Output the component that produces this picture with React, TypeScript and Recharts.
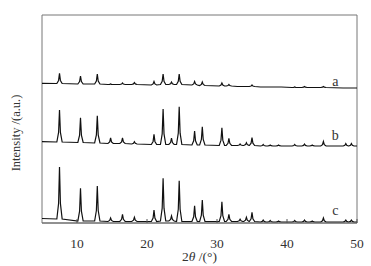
import React from 'react';
import { LineChart, Line, XAxis, YAxis, ReferenceDot, ReferenceArea } from 'recharts';

// 2θ positions of the reflections (shared by all three patterns)
const angles = [7.5, 10.5, 12.9, 14.8, 16.5, 18.2, 21.0, 22.3, 23.5, 24.6, 26.8, 27.9, 30.7, 31.7, 33.3, 34.2, 35.0, 36.6, 37.6, 38.8, 41.1, 42.5, 43.6, 45.2, 48.4, 49.2];

// pattern a (offset on top)
const aStart = 139.7;
const aEnd = 135;
const aBase = [139.5, 139, 139, 138.5, 138.5, 138.5, 138, 138.5, 138.5, 138.5, 138, 137.5, 137, 137, 136.5, 136.5, 136.5, 136, 136, 136, 135.5, 135.5, 135.5, 135.5, 135, 135];
const aPeak = [149.7, 147, 149, 139, 140, 140.5, 141.5, 149, 141, 149, 141.5, 141, 140, 138.5, 136.5, 136.5, 138, 136, 136, 136, 136, 136.5, 135.5, 136.5, 135, 135];

// pattern b
const bStart = 81.3;
const bEnd = 77;
const bBase = [81, 80.5, 80, 79.5, 79.5, 79, 78.5, 78.5, 78.5, 78.5, 78, 78, 77.5, 77.5, 77.5, 77.5, 77.5, 77, 77, 77, 77, 77, 77, 77, 77, 77];
const bPeak = [113, 105.3, 107.3, 85, 85, 81.3, 88.7, 114, 85, 116.3, 92, 96.3, 95.3, 84.7, 79, 80.3, 85.3, 78.5, 78, 78, 78.5, 79, 78, 81.5, 79.5, 79.5];

// pattern c
const cStart = 4.5;
const cEnd = 1;
const cBase = [4, 2, 2, 1.5, 1.5, 1.5, 1.5, 2, 2, 1.5, 1.5, 1.5, 1.5, 1.5, 1.5, 1.5, 1.5, 1, 1, 1, 1, 1, 1, 1, 1, 1];
const cPeak = [56, 34.7, 37, 5, 8.7, 5.7, 13, 44.7, 7, 42.3, 17.3, 23, 21.3, 8.7, 3.7, 5.7, 10.7, 3, 2.5, 2, 2.5, 3, 2, 5, 3, 3];

const xTicks = [10, 20, 30, 40, 50];

const buildTrace = (start: number, end: number, base: number[], peak: number[]) => {
  const pts: { t: number; v: number }[] = [{ t: 5, v: start }];
  angles.forEach((a, i) => {
    const b = base[i];
    const p = peak[i];
    const s = b + (p - b) * 0.3;
    pts.push({ t: a - 0.38, v: b }, { t: a - 0.13, v: s }, { t: a, v: p }, { t: a + 0.13, v: s }, { t: a + 0.38, v: b });
  });
  pts.push({ t: 50, v: end });
  return pts;
};

const traceA = buildTrace(aStart, aEnd, aBase, aPeak);
const traceB = buildTrace(bStart, bEnd, bBase, bPeak);
const traceC = buildTrace(cStart, cEnd, cBase, cPeak);

const FONT = '"Liberation Serif", "Times New Roman", serif';
const TEXT = '#333';
const textStyle = { fontFamily: FONT };

const BottomTick = (props: any) => {
  const { x, y, payload } = props;
  return (
    <g>
      <line x1={x} y1={y} x2={x} y2={y - 4} stroke="#555" />
      <text x={x} y={y + 25} textAnchor="middle" fontSize={13.5} style={textStyle} fill={TEXT}>
        {payload.value}
      </text>
    </g>
  );
};

const XTitle = (props: any) => {
  const vb = props.viewBox || {};
  return (
    <text x={vb.x + vb.width / 2} y={vb.y + 38} textAnchor="middle" fontSize={13.5} style={textStyle} fill={TEXT}>
      <tspan>2</tspan>
      <tspan fontStyle="italic">θ</tspan>
      <tspan> /(°)</tspan>
    </text>
  );
};

const YTitle = (props: any) => {
  const vb = props.viewBox || {};
  const cx = 20;
  const cy = vb.y + vb.height / 2 + 14;
  return (
    <text x={cx} y={cy} transform={`rotate(-90 ${cx} ${cy})`} textAnchor="middle" fontSize={12.5} style={textStyle} fill={TEXT}>
      Intensity /(a.u.)
    </text>
  );
};

const tag = (t: string) => ({ value: t, position: 'center' as const, fontSize: 14, style: textStyle, fill: TEXT });

export default function App() {
  return (
    <div style={{ position: 'absolute', left: 0, top: 0, background: '#fff' }}>
      <LineChart width={371} height={266} margin={{ top: 15, right: 14, bottom: 0, left: 41 }}>
        <XAxis
          type="number"
          dataKey="t"
          domain={[5, 50]}
          ticks={xTicks}
          allowDataOverflow
          height={43}
          tickSize={0}
          tickMargin={0}
          tickLine={false}
          axisLine={{ stroke: '#666' }}
          tick={<BottomTick />}
          label={<XTitle />}
        />
        <YAxis type="number" domain={[0, 208]} allowDataOverflow width={1} tick={false} tickLine={false} axisLine={false} label={<YTitle />} />
        <ReferenceArea x1={5} x2={50} y1={0} y2={208} fill="none" stroke="#777" strokeWidth={1} ifOverflow="visible" />
        <Line data={traceA} dataKey="v" type="linear" stroke="#111" strokeWidth={1.2} dot={false} isAnimationActive={false} />
        <Line data={traceB} dataKey="v" type="linear" stroke="#111" strokeWidth={1.2} dot={false} isAnimationActive={false} />
        <Line data={traceC} dataKey="v" type="linear" stroke="#111" strokeWidth={1.2} dot={false} isAnimationActive={false} />
        <ReferenceDot x={46.9} y={142} r={0} fill="none" stroke="none" label={tag('a')} />
        <ReferenceDot x={46.9} y={88} r={0} fill="none" stroke="none" label={tag('b')} />
        <ReferenceDot x={46.9} y={13} r={0} fill="none" stroke="none" label={tag('c')} />
      </LineChart>
    </div>
  );
}
